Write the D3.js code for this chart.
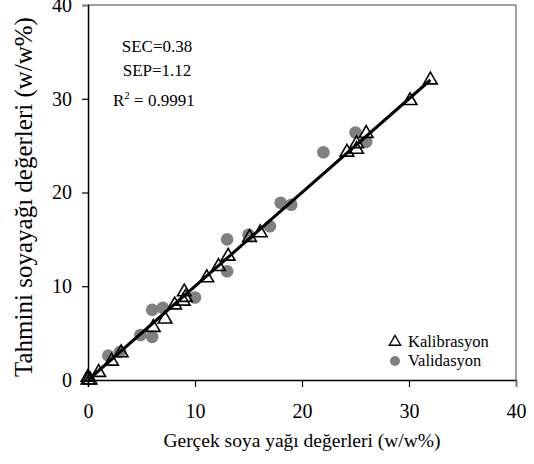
<!DOCTYPE html>
<html><head><meta charset="utf-8">
<script src="https://cdn.jsdelivr.net/npm/d3@7"></script>
<style>
body{margin:0;background:#fff;}
svg{display:block;}
</style></head><body>
<svg id="c" width="534" height="464"></svg>
<script>
// Calibration (Kalibrasyon) points: actual, predicted
const calX = [0, 0, 0.2, 1.0, 2.2, 3.1, 6.1, 7.2, 8.1, 8.9, 9.1, 9.0, 11.1, 12.2, 13.1, 15.1, 16.1, 24.2, 25.1, 25.1, 26.0, 30.1, 32.0];
const calY = [0, 0.3, 0, 0.8, 2.0, 2.9, 5.6, 6.5, 8.0, 8.4, 8.8, 9.4, 10.9, 12.1, 13.2, 15.2, 15.7, 24.3, 24.6, 25.2, 26.3, 29.8, 32.0];
// Validation (Validasyon) points
const valX = [1.9, 3.0, 4.9, 6.0, 6.0, 7.0, 10.0, 13.0, 13.0, 15.0, 17.0, 18.0, 19.0, 22.0, 25.0, 26.0];
const valY = [2.6, 3.0, 4.8, 4.6, 7.5, 7.7, 8.8, 11.6, 15.0, 15.5, 16.4, 18.9, 18.7, 24.3, 26.4, 25.4];
// Regression line
const lineX = [0, 32];
const lineY = [0, 32];
const ticks = [0, 10, 20, 30, 40];
const stats = ["SEC=0.38", "SEP=1.12"];
const r2 = "0.9991";
const legendLabels = ["Kalibrasyon", "Validasyon"];
const xTitle = "Gerçek soya yağı değerleri (w/w%)";
const yTitle = "Tahmini soyayağı değerleri (w/w%)";

// pick an installed serif family
function pickFont(cands) {
  const ctx = document.createElement("canvas").getContext("2d");
  const s = "mmmmmmmmmmlliWWQQ0123456789";
  ctx.font = "40px monospace"; const wm = ctx.measureText(s).width;
  ctx.font = "40px sans-serif"; const ws = ctx.measureText(s).width;
  for (const c of cands) {
    ctx.font = `40px "${c}", monospace`; const a = ctx.measureText(s).width;
    ctx.font = `40px "${c}", sans-serif`; const b = ctx.measureText(s).width;
    if (a !== wm && b !== ws && Math.abs(a - b) < 0.01) return `"${c}"`;
  }
  return "serif";
}
const FONT = pickFont(["Liberation Serif", "Times New Roman", "Tinos", "Times", "Nimbus Roman", "DejaVu Serif", "Noto Serif"]);

const svg = d3.select("#c").style("font-family", FONT);
const x = d3.scaleLinear().domain([0, 40]).range([88, 516]);
const y = d3.scaleLinear().domain([0, 40]).range([380, 5]);

// frame (gray top/right)
svg.append("line").attr("x1", 88).attr("x2", 516).attr("y1", y(40)).attr("y2", y(40)).attr("stroke", "#808080").attr("stroke-width", 1.5);
svg.append("line").attr("x1", 516).attr("x2", 516).attr("y1", y(40)).attr("y2", y(0)).attr("stroke", "#808080").attr("stroke-width", 1.5);

const fs = "20px";
const gx = svg.append("g").attr("transform", `translate(0,${y(0)})`)
  .call(d3.axisBottom(x).tickValues(ticks).tickSize(7).tickPadding(17).tickFormat(d3.format("d")));
const gy = svg.append("g").attr("transform", `translate(${x(0)},0)`)
  .call(d3.axisLeft(y).tickValues(ticks).tickSize(6).tickPadding(10).tickFormat(d3.format("d")));
[gx, gy].forEach(g => {
  g.attr("font-family", null).attr("font-size", null);
  g.select(".domain").attr("stroke", "#000").attr("stroke-width", 1.5);
  g.selectAll(".tick line").attr("stroke", "#000").attr("stroke-width", 1.2);
  g.selectAll(".tick text").attr("fill", "#000").style("font-size", fs).style("font-family", FONT);
});
gx.selectAll(".tick line").filter(d => d === 40).attr("stroke", "#808080").attr("stroke-width", 1.5);
gy.selectAll(".tick line").filter(d => d === 40).attr("stroke", "#808080").attr("stroke-width", 1.5);

// titles
svg.append("text").attr("x", 302).attr("y", 447).attr("text-anchor", "middle").style("font-size", "19.5px").text(xTitle);
svg.append("text").attr("transform", "translate(31.5,377) rotate(-90)").attr("text-anchor", "start").style("font-size", "25px").text(yTitle);

// validation circles
svg.append("g").selectAll("circle").data(valX).join("circle")
  .attr("cx", (d) => x(d)).attr("cy", (d, i) => y(valY[i])).attr("r", 6.3).attr("fill", "#808080");

// calibration triangles
const tri = d3.symbol().type(d3.symbolTriangle).size(80);
svg.append("g").selectAll("path").data(calX).join("path")
  .attr("d", tri).attr("transform", (d, i) => `translate(${x(d)},${y(calY[i])})`)
  .attr("fill", "none").attr("stroke", "#000").attr("stroke-width", 1.6);

// regression line
svg.append("line").attr("x1", x(lineX[0])).attr("y1", y(lineY[0])).attr("x2", x(lineX[1])).attr("y2", y(lineY[1]))
  .attr("stroke", "#000").attr("stroke-width", 3);

// stats annotation
const afs = "17px";
svg.append("text").attr("x", 157).attr("y", 52).attr("text-anchor", "middle").style("font-size", afs).text(stats[0]);
svg.append("text").attr("x", 157).attr("y", 76).attr("text-anchor", "middle").style("font-size", afs).text(stats[1]);
const rt = svg.append("text").attr("x", 113).attr("y", 106).style("font-size", afs);
rt.append("tspan").text("R");
rt.append("tspan").attr("dy", -7).style("font-size", "11px").text("2");
rt.append("tspan").attr("dy", 7).text(" = " + r2);

// legend
const lfs = "16.5px";
svg.append("path").attr("d", d3.symbol().type(d3.symbolTriangle).size(55)).attr("transform", "translate(395,342)")
  .attr("fill", "none").attr("stroke", "#000").attr("stroke-width", 1.4);
svg.append("text").attr("x", 408).attr("y", 347).style("font-size", lfs).text(legendLabels[0]);
svg.append("circle").attr("cx", 395).attr("cy", 361).attr("r", 5).attr("fill", "#808080");
svg.append("text").attr("x", 408).attr("y", 366).style("font-size", lfs).text(legendLabels[1]);
</script>
</body></html>
